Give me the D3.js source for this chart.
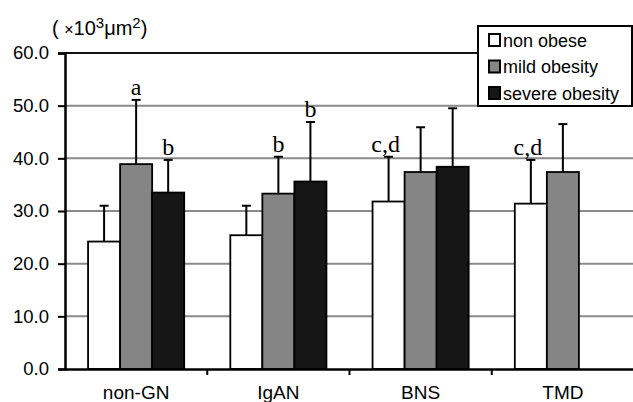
<!DOCTYPE html>
<html><head><meta charset="utf-8">
<script src="https://cdn.jsdelivr.net/npm/d3@7"></script>
<style>body{margin:0;background:#fff}svg{display:block}</style>
</head><body>
<svg id="c" width="633" height="402"></svg>
<script>
const categories = ["non-GN", "IgAN", "BNS", "TMD"];
const series = ["non obese", "mild obesity", "severe obesity"];
const nonObese = [24.2, 25.4, 31.8, 31.4];
const nonObeseSD = [6.8, 5.6, 8.5, 8.3];
const mildObesity = [38.9, 33.3, 37.4, 37.4];
const mildObesitySD = [12.2, 7.0, 8.5, 9.1];
const severeObesity = [33.5, 35.6, 38.4, null];
const severeObesitySD = [6.2, 11.3, 11.1, null];
const nonObeseLabels = ["", "", "c,d", "c,d"];
const mildObesityLabels = ["a", "b", "", ""];
const severeObesityLabels = ["b", "b", "", ""];
const yTicks = [0, 10, 20, 30, 40, 50, 60];

const values = [nonObese, mildObesity, severeObesity];
const sds = [nonObeseSD, mildObesitySD, severeObesitySD];
const labels = [nonObeseLabels, mildObesityLabels, severeObesityLabels];
const fills = ["#ffffff", "#858585", "#161616"];

const data = [];
categories.forEach((c, i) => series.forEach((s, j) => {
  if (values[j][i] != null) data.push({c, s, v: values[j][i], sd: sds[j][i], lab: labels[j][i], fill: fills[j]});
}));

const svg = d3.select("#c");
const L = 65, R = 634, T = 53, B = 369;
const x0 = d3.scaleBand().domain(categories).range([L, R]).padding(0);
const x1 = d3.scaleBand().domain(series).range([0, x0.bandwidth()]).paddingInner(0).paddingOuter(0.72);
const y = d3.scaleLinear().domain([0, 60]).range([B, T]);
const font = "'Liberation Sans', Arial, sans-serif";

// gridlines
svg.append("g").selectAll("line").data(yTicks.filter(t => t > 0 && t < 60)).join("line")
  .attr("x1", L).attr("x2", R).attr("y1", d => y(d)).attr("y2", d => y(d))
  .attr("stroke", "#8a8a8a").attr("stroke-width", 2);
svg.append("line").attr("x1", L).attr("x2", R).attr("y1", y(60)).attr("y2", y(60))
  .attr("stroke", "#111").attr("stroke-width", 2);

// bars
svg.append("g").selectAll("rect").data(data).join("rect")
  .attr("x", d => x0(d.c) + x1(d.s))
  .attr("y", d => y(d.v))
  .attr("width", x1.bandwidth())
  .attr("height", d => y(0) - y(d.v))
  .attr("fill", d => d.fill).attr("stroke", "#000").attr("stroke-width", 1.8);

// error bars
const eb = svg.append("g").attr("stroke", "#000").attr("stroke-width", 2);
data.forEach(d => {
  const cx = x0(d.c) + x1(d.s) + x1.bandwidth() / 2;
  eb.append("line").attr("x1", cx).attr("x2", cx).attr("y1", y(d.v)).attr("y2", y(d.v + d.sd));
  eb.append("line").attr("x1", cx - 4.5).attr("x2", cx + 4.5).attr("y1", y(d.v + d.sd)).attr("y2", y(d.v + d.sd));
});

// significance letters
svg.append("g").selectAll("text").data(data.filter(d => d.lab)).join("text")
  .attr("x", d => x0(d.c) + x1(d.s) + x1.bandwidth() / 2 - (d.lab.length > 1 ? 3 : 0))
  .attr("y", d => y(d.v + d.sd) - 5)
  .attr("text-anchor", "middle")
  .attr("font-family", "'Liberation Serif', 'Times New Roman', serif")
  .attr("font-size", 24).attr("fill", "#000")
  .text(d => d.lab);

// axes
const yAxis = d3.axisLeft(y).tickValues(yTicks).tickSize(7).tickFormat(d3.format(".1f"));
const ga = svg.append("g").attr("transform", `translate(${L},0)`).call(yAxis);
ga.select(".domain").attr("stroke", "#000").attr("stroke-width", 2.5);
ga.selectAll(".tick line").attr("stroke", "#000").attr("stroke-width", 2);
ga.selectAll(".tick text").attr("font-family", font).attr("font-size", 18.5).attr("fill", "#000").attr("x", -16);

const xAxis = d3.axisBottom(x0).tickSize(0).tickPadding(17);
const gx = svg.append("g").attr("transform", `translate(0,${B})`).call(xAxis);
gx.select(".domain").attr("stroke", "#000").attr("stroke-width", 2.5);
gx.selectAll(".tick text").attr("font-family", font).attr("font-size", 19).attr("fill", "#000");
// category boundary ticks
gx.append("g").selectAll("line").data(categories.slice(1)).join("line")
  .attr("x1", d => x0(d)).attr("x2", d => x0(d)).attr("y1", 0).attr("y2", 6)
  .attr("stroke", "#000").attr("stroke-width", 2);

// unit label
const ut = svg.append("text").attr("x", 52).attr("y", 35).attr("font-family", font).attr("font-size", 20).attr("fill", "#000");
ut.append("tspan").text("( ");
ut.append("tspan").attr("font-size", 16).text("×");
ut.append("tspan").text("10");
ut.append("tspan").attr("font-size", 15).attr("dy", -7).text("3");
ut.append("tspan").attr("dy", 7).text("μm");
ut.append("tspan").attr("font-size", 15).attr("dy", -7).text("2");
ut.append("tspan").attr("dy", 7).text(")");

// legend
const lg = svg.append("g");
lg.append("rect").attr("x", 478).attr("y", 26).attr("width", 154).attr("height", 80)
  .attr("fill", "#fff").attr("stroke", "#000").attr("stroke-width", 2);
series.forEach((s, j) => {
  const yy = 40 + j * 26.5;
  lg.append("rect").attr("x", 489).attr("y", yy - 6).attr("width", 11).attr("height", 12)
    .attr("fill", fills[j]).attr("stroke", "#000").attr("stroke-width", 2);
  lg.append("text").attr("x", 503).attr("y", yy + 6.5).attr("font-family", font).attr("font-size", 18)
    .attr("fill", "#000").text(s);
});
</script>
</body></html>
